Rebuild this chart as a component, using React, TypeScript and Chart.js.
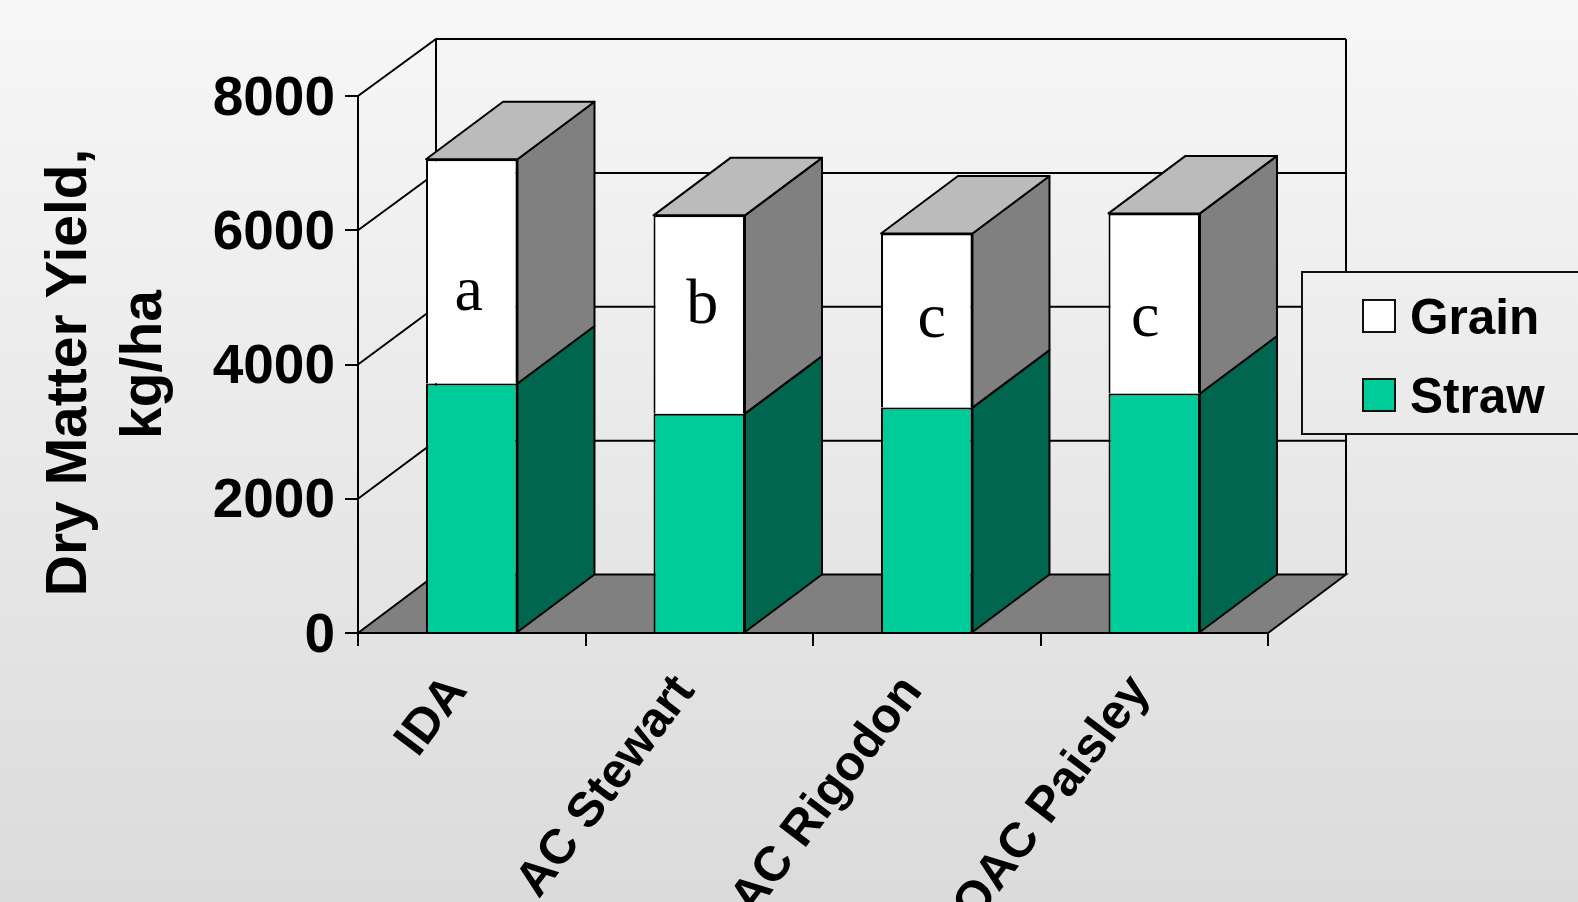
import React, { useEffect, useRef } from "react";
import { Chart, registerables } from "chart.js";

Chart.register(...registerables);

// Cultivar yields, kg/ha
const cultivars = ["IDA", "AC Stewart", "AC Rigodon", "OAC Paisley"];
const straw = [3717, 3268, 3358, 3568];
const grain = [3340, 2954, 2594, 2683];
// Significance letters and the yield level their baselines sit at
const letters = ["a", "b", "c", "c"];
const letterLevels = [4812, 4618, 4410, 4430];
const letterShift = [-3, 3, 5, -9];
const yTicks = [0, 2000, 4000, 6000, 8000];

const WIDTH = 1578;
const HEIGHT = 902;
const BOX_DEPTH_X = 78;
const BAR_DEPTH_X = 77;
const BAR_DEPTH_Y = 57.5;
const LINE = 2;
const SANS = "'Liberation Sans', Arial, sans-serif";
const SERIF = "'Liberation Serif', 'Times New Roman', serif";

const sideColors = ["#006650", "#808080"];
const topColor = "#BBBBBB";

function poly(ctx: CanvasRenderingContext2D, pts: number[][], fill?: string) {
  ctx.beginPath();
  pts.forEach((p, i) => (i ? ctx.lineTo(p[0], p[1]) : ctx.moveTo(p[0], p[1])));
  ctx.closePath();
  if (fill) {
    ctx.fillStyle = fill;
    ctx.fill();
  }
  ctx.stroke();
}

function pageGradient(ctx: CanvasRenderingContext2D) {
  const g = ctx.createLinearGradient(0, 0, 0, HEIGHT);
  g.addColorStop(0, "#F7F7F7");
  g.addColorStop(1, "#DBDBDB");
  return g;
}

// Page background plus the floor and walls of the 3D box
const boxPlugin = {
  id: "box",
  beforeDraw(chart: any) {
    const { ctx, scales, chartArea: a } = chart;
    ctx.save();
    ctx.fillStyle = pageGradient(ctx);
    ctx.fillRect(0, 0, WIDTH, HEIGHT);
    ctx.strokeStyle = "#000";
    ctx.lineWidth = LINE;
    const bx = a.left + BOX_DEPTH_X;
    const brx = a.right + BOX_DEPTH_X;
    const y0 = scales.y.getPixelForValue(0);
    const yMax = scales.y.getPixelForValue(8000);
    // The box narrows very slightly towards its back face
    const back = (y: number) => y - 57 - (1.5 * (y - yMax)) / (y0 - yMax);
    poly(ctx, [[a.left, y0], [bx, back(y0)], [brx, back(y0)], [a.right, y0]], "#808080");
    ctx.beginPath();
    ctx.moveTo(bx, back(y0));
    ctx.lineTo(bx, back(yMax));
    ctx.moveTo(brx, back(y0));
    ctx.lineTo(brx, back(yMax));
    yTicks.slice(1).forEach((v) => {
      const y = scales.y.getPixelForValue(v);
      ctx.moveTo(a.left, y);
      ctx.lineTo(bx, back(y));
      ctx.lineTo(brx, back(y));
    });
    ctx.stroke();
    ctx.restore();
  },
  // Receding side and top faces of every bar segment
  beforeDatasetsDraw(chart: any) {
    const { ctx } = chart;
    ctx.save();
    ctx.strokeStyle = "#000";
    ctx.lineWidth = LINE;
    ctx.lineJoin = "round";
    chart.data.datasets.forEach((_: any, d: number) => {
      chart.getDatasetMeta(d).data.forEach((bar: any) => {
        const r = bar.x + bar.width / 2;
        const l = bar.x - bar.width / 2;
        poly(ctx, [[r, bar.base], [r + BAR_DEPTH_X, bar.base - BAR_DEPTH_Y], [r + BAR_DEPTH_X, bar.y - BAR_DEPTH_Y], [r, bar.y]], sideColors[d]);
        if (d === chart.data.datasets.length - 1) {
          poly(ctx, [[l, bar.y], [l + BAR_DEPTH_X, bar.y - BAR_DEPTH_Y], [r + BAR_DEPTH_X, bar.y - BAR_DEPTH_Y], [r, bar.y]], topColor);
        }
      });
    });
    ctx.restore();
  },
  // Significance letters and the legend, which sits over the back wall
  afterDraw(chart: any) {
    const { ctx, scales } = chart;
    ctx.save();
    ctx.fillStyle = "#000";
    ctx.font = `64px ${SERIF}`;
    ctx.textAlign = "center";
    ctx.textBaseline = "alphabetic";
    letters.forEach((t, i) => {
      ctx.fillText(t, scales.x.getPixelForValue(i) + letterShift[i], scales.y.getPixelForValue(letterLevels[i]));
    });

    ctx.strokeStyle = "#111";
    ctx.lineWidth = LINE;
    ctx.fillStyle = pageGradient(ctx);
    ctx.fillRect(1302, 272, 290, 162);
    ctx.strokeRect(1302, 272, 290, 162);
    ctx.font = `bold 49.5px ${SANS}`;
    ctx.textAlign = "left";
    ctx.textBaseline = "middle";
    [...chart.data.datasets].reverse().forEach((ds: any, i: number) => {
      const y = 316 + i * 79;
      ctx.fillStyle = ds.backgroundColor;
      ctx.fillRect(1363, y - 16, 32, 32);
      ctx.strokeRect(1363, y - 16, 32, 32);
      ctx.fillStyle = "#000";
      ctx.fillText(ds.label, 1410, y + 4);
    });
    ctx.restore();
  },
};

export default function App() {
  const ref = useRef<HTMLCanvasElement>(null);
  useEffect(() => {
    const chart = new Chart(ref.current as HTMLCanvasElement, {
      type: "bar",
      data: {
        labels: cultivars,
        datasets: [
          { label: "Straw", data: straw, backgroundColor: "#00CC99", borderColor: "#000", borderWidth: 2, borderSkipped: "bottom" },
          { label: "Grain", data: grain, backgroundColor: "#FFFFFF", borderColor: "#000", borderWidth: 2, borderSkipped: "bottom" },
        ],
      },
      options: {
        responsive: false,
        animation: false,
        layout: { autoPadding: false, padding: { left: 0, right: WIDTH - 1268, top: 96, bottom: 0 } },
        plugins: { legend: { display: false }, tooltip: { enabled: false }, title: { display: false } },
        datasets: { bar: { categoryPercentage: 1, barPercentage: 0.402 } },
        scales: {
          x: {
            stacked: true,
            afterFit: (s: any) => { s.height = HEIGHT - 633; },
            border: { display: true, color: "#000", width: LINE, z: 1 },
            grid: { display: true, drawOnChartArea: false, color: "#000", lineWidth: LINE, tickLength: 13 },
            ticks: {
              color: "#000",
              font: { family: SANS, weight: "bold", size: 49 },
              minRotation: 53,
              maxRotation: 53,
              padding: 19,
              labelOffset: -14,
            },
          },
          y: {
            stacked: true,
            min: 0,
            max: 8000,
            afterFit: (s: any) => { s.width = 358; },
            afterBuildTicks: (s: any) => { s.ticks = yTicks.map((value) => ({ value })); },
            border: { display: true, color: "#000", width: LINE },
            grid: { display: true, drawOnChartArea: false, color: "#000", lineWidth: LINE, tickLength: 13 },
            ticks: {
              color: "#000",
              font: { family: SANS, weight: "bold", size: 55 },
              padding: 10,
              labelOffset: 3.5,
              callback: (v: any) => String(v),
            },
            title: {
              display: true,
              text: ["Dry Matter Yield, ", "kg/ha"],
              color: "#000",
              font: { family: SANS, weight: "bold", size: 57, lineHeight: 1.33 },
              padding: { top: 32, bottom: 0 },
            },
          },
        },
      },
      plugins: [boxPlugin],
    } as any);
    return () => chart.destroy();
  }, []);
  return (
    <div style={{ position: "fixed", left: 0, top: 0, width: WIDTH, height: HEIGHT, overflow: "hidden" }}>
      <canvas ref={ref} width={WIDTH} height={HEIGHT} style={{ display: "block" }} />
    </div>
  );
}
